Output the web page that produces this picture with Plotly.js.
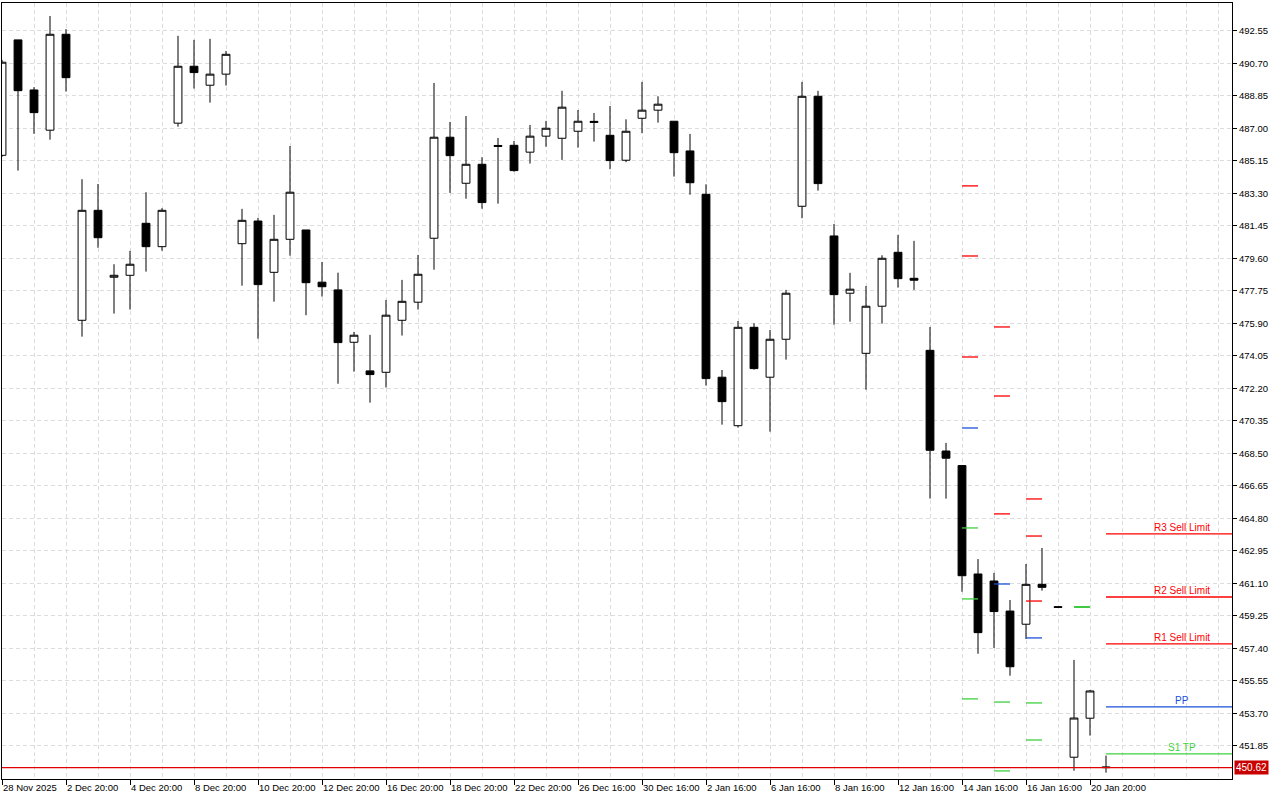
<!DOCTYPE html>
<html>
<head>
<meta charset="utf-8">
<script src="https://cdn.plot.ly/plotly-3.0.1.min.js"></script>
<style>
  html, body { margin: 0; padding: 0; background: #ffffff; }
  #chart { width: 1280px; height: 800px; }
</style>
</head>
<body>
<div id="chart"></div>
<script>
// ---- data ----
const openP = [485.47, 492.04, 489.19, 486.90, 492.36, 476.08, 482.34, 478.53, 478.64, 481.60,
  480.27, 487.30, 490.54, 489.46, 490.09, 480.44, 481.73, 478.81, 480.69, 481.22,
  478.25, 477.81, 474.83, 473.20, 473.12, 476.08, 477.11, 480.75, 486.50, 483.88,
  484.96, 486.03, 486.04, 485.65, 486.56, 486.44, 486.84, 487.34, 486.61, 485.19,
  487.58, 488.04, 487.41, 485.72, 483.25, 472.84, 470.08, 475.68, 472.84, 475.00,
  482.57, 488.83, 480.88, 477.62, 474.20, 476.88, 479.95, 478.47, 474.37, 468.64,
  467.81, 461.64, 461.24, 459.53, 458.78, 461.05, 459.78, 451.21, 453.43, 450.66];
const closeP = [490.77, 489.15, 487.90, 492.36, 489.89, 482.34, 480.78, 478.64, 479.27, 480.27,
  482.34, 490.54, 490.18, 490.09, 491.22, 481.77, 478.11, 480.69, 483.37, 478.22,
  477.99, 474.81, 475.23, 472.99, 476.37, 477.16, 478.70, 486.50, 485.45, 484.96,
  482.78, 485.98, 484.60, 486.56, 487.01, 488.21, 487.41, 487.40, 485.17, 486.84,
  488.04, 488.38, 485.62, 483.91, 472.76, 471.45, 475.68, 473.33, 475.00, 477.62,
  488.83, 483.86, 477.54, 477.85, 476.88, 479.61, 478.45, 478.36, 468.68, 468.23,
  461.54, 458.30, 459.50, 456.36, 461.05, 460.88, 459.74, 453.44, 454.98, 450.62];
const highP = [490.90, 492.04, 489.35, 493.40, 492.65, 484.11, 483.84, 479.27, 480.03, 483.37,
  482.46, 492.27, 492.04, 492.10, 491.41, 482.42, 481.91, 482.08, 486.00, 481.22,
  479.40, 478.79, 475.42, 475.25, 477.24, 478.38, 479.80, 489.59, 487.37, 487.71,
  485.36, 486.46, 486.29, 487.20, 487.43, 489.14, 488.05, 487.88, 488.28, 487.52,
  489.65, 488.83, 487.41, 486.69, 483.82, 473.25, 476.04, 475.91, 475.53, 477.81,
  489.65, 489.14, 481.56, 478.78, 478.03, 479.78, 480.94, 480.60, 475.70, 469.10,
  467.81, 462.49, 461.70, 460.16, 462.21, 463.12, 459.78, 456.75, 455.04, 451.30];
const lowP = [485.38, 484.60, 486.69, 486.36, 489.10, 475.15, 480.21, 476.46, 476.69, 478.85,
  480.04, 487.10, 489.27, 488.47, 489.44, 478.05, 475.03, 477.14, 479.76, 476.37,
  477.43, 472.47, 473.16, 471.39, 472.25, 475.21, 476.69, 478.96, 483.33, 483.00,
  482.43, 482.72, 484.54, 485.00, 485.96, 485.21, 485.91, 486.25, 484.68, 485.08,
  486.73, 487.33, 484.26, 483.23, 472.36, 470.14, 469.97, 473.27, 469.74, 473.84,
  481.89, 483.46, 475.83, 476.00, 472.13, 475.89, 477.94, 477.81, 465.93, 465.93,
  460.63, 457.10, 457.43, 455.85, 457.94, 460.69, 459.74, 450.44, 452.44, 450.33];

const tickIdx = [0, 4, 8, 12, 16, 20, 24, 28, 32, 36, 40, 44, 48, 52, 56, 60, 64, 68];
const tickLabels = ["28 Nov 2025", "2 Dec 20:00", "4 Dec 20:00", "8 Dec 20:00", "10 Dec 20:00",
  "12 Dec 20:00", "16 Dec 20:00", "18 Dec 20:00", "22 Dec 20:00", "26 Dec 16:00",
  "30 Dec 16:00", "2 Jan 16:00", "6 Jan 16:00", "8 Jan 16:00", "12 Jan 16:00",
  "14 Jan 16:00", "16 Jan 16:00", "20 Jan 20:00"];
const priceTicks = [451.85, 453.70, 455.55, 457.40, 459.25, 461.10, 462.95, 464.80, 466.65,
  468.50, 470.35, 472.20, 474.05, 475.90, 477.75, 479.60, 481.45, 483.30, 485.15,
  487.00, 488.85, 490.70, 492.55];

// previous-day pivot segments (start candle index of each day)
const pivotStart = [60, 62, 64, 67];
const pivotR3 = [483.73, 475.70, 465.91, 459.76];
const pivotR2 = [479.74, 471.77, 463.80, 459.76];
const pivotR1 = [473.99, 465.06, 460.10, 459.76];
const pivotPP = [469.95, 461.07, 458.00, 459.76];
const pivotS1 = [464.26, 454.35, 454.30, 459.76];
const pivotS2 = [460.22, 450.43, 452.19, 459.76];
const pivotS3 = [454.53, null, null, 459.76];

// current levels
const levelNames = ["R3 Sell Limit", "R2 Sell Limit", "R1 Sell Limit", "PP", "S1 TP"];
const levelValues = [463.92, 460.33, 457.66, 454.07, 451.40];
const levelStart = 69;

// ---- styles ----
const RED = "#ff0000", BLUE = "#1a50d8", GREEN = "#3ed23e";
const levelColors = [RED, RED, RED, BLUE, GREEN];
const X_MAX = 76.875;

const xIdx = openP.map((_, i) => i);

const traces = [];
traces.push({
  type: "candlestick",
  x: xIdx, open: openP, high: highP, low: lowP, close: closeP,
  increasing: { line: { color: "#000000", width: 1 }, fillcolor: "#ffffff" },
  decreasing: { line: { color: "#000000", width: 1 }, fillcolor: "#000000" },
  whiskerwidth: 0,
  hoverinfo: "skip",
  showlegend: false
});

function segTrace(vals, color) {
  const xs = [], ys = [];
  vals.forEach((v, i) => {
    if (v === null) return;
    xs.push(pivotStart[i], pivotStart[i] + 1, null);
    ys.push(v, v, null);
  });
  return { type: "scatter", mode: "lines", x: xs, y: ys,
    line: { color: color, width: 1.3 }, hoverinfo: "skip", showlegend: false };
}
[[pivotR3, RED], [pivotR2, RED], [pivotR1, RED], [pivotPP, BLUE],
 [pivotS1, GREEN], [pivotS2, GREEN], [pivotS3, GREEN]].forEach(p => traces.push(segTrace(p[0], p[1])));

levelValues.forEach((v, i) => {
  traces.push({ type: "scatter", mode: "lines", x: [levelStart, X_MAX + 2], y: [v, v],
    line: { color: levelColors[i], width: 1.3 }, hoverinfo: "skip", showlegend: false });
});

const lastPrice = closeP[closeP.length - 1];

const annotations = levelNames.map((n, i) => ({
  x: 73.75, y: levelValues[i], xref: "x", yref: "y",
  text: n, showarrow: false, xanchor: "center", yanchor: "bottom",
  yshift: -1,
  font: { family: "Liberation Sans, Arial, sans-serif", size: 10, color: levelColors[i] }
}));
annotations.push({
  x: 1, xref: "paper", y: lastPrice, yref: "y",
  text: lastPrice.toFixed(2), showarrow: false, xanchor: "left", yanchor: "middle",
  xshift: 2, bgcolor: "#c80000", borderpad: 1,
  font: { family: "Liberation Sans, Arial, sans-serif", size: 10, color: "#ffffff" }
});

const GRID = "#dcdcdc";
const layout = {
  width: 1280, height: 800,
  margin: { l: 2, r: 48, t: 3, b: 21, pad: 0 },
  paper_bgcolor: "#ffffff", plot_bgcolor: "#ffffff",
  font: { family: "Liberation Sans, Arial, sans-serif", size: 10, color: "#000000" },
  showlegend: false,
  xaxis: {
    type: "linear", range: [0, X_MAX], fixedrange: true,
    rangeslider: { visible: false },
    tickmode: "array", tickvals: tickIdx, ticktext: tickLabels,
    ticks: "outside", ticklen: 5, tickcolor: "#000000", tickwidth: 1,
    ticklabelposition: "outside right", tickangle: 0,
    tickfont: { size: 9.5, color: "#000000" },
    showgrid: true, gridcolor: GRID, griddash: "4px,3px", gridwidth: 1,
    minor: { tickmode: "linear", tick0: 0, dtick: 2, showgrid: true, gridcolor: GRID,
             griddash: "4px,3px", gridwidth: 1, ticks: "" },
    showline: true, linecolor: "#000000", linewidth: 1, mirror: true,
    zeroline: false
  },
  yaxis: {
    side: "right", range: [449.97, 494.14], fixedrange: true,
    tickmode: "array", tickvals: priceTicks, ticktext: priceTicks.map(v => v.toFixed(2)),
    ticks: "outside", ticklen: 4, tickcolor: "#000000", tickwidth: 1,
    tickfont: { size: 9.5, color: "#000000" },
    showgrid: true, gridcolor: GRID, griddash: "4px,3px", gridwidth: 1,
    showline: true, linecolor: "#000000", linewidth: 1, mirror: true,
    zeroline: false
  },
  shapes: [{
    type: "line", xref: "paper", x0: 0, x1: 1, yref: "y", y0: lastPrice, y1: lastPrice,
    line: { color: "#e00000", width: 1.3 }, layer: "above"
  }],
  annotations: annotations
};

Plotly.newPlot("chart", traces, layout, { staticPlot: true, displayModeBar: false });
</script>
</body>
</html>
